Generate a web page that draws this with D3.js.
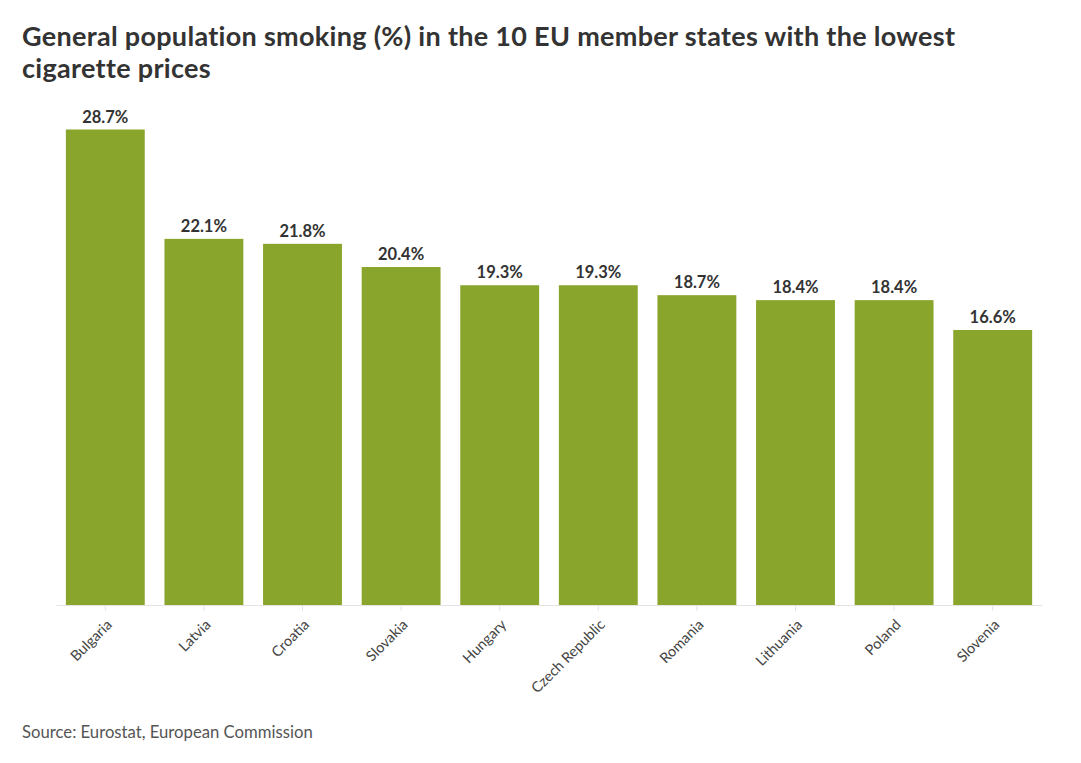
<!DOCTYPE html>
<html>
<head>
<meta charset="utf-8">
<script src="https://cdn.jsdelivr.net/npm/d3@7"></script>
<style>
  body { margin: 0; background: #fff; }
  text { font-family: "Source Sans Pro", Lato, "Open Sans", sans-serif; }
</style>
</head>
<body>
<script>
var countries = ["Bulgaria", "Latvia", "Croatia", "Slovakia", "Hungary",
    "Czech Republic", "Romania", "Lithuania", "Poland", "Slovenia"];
var smoking = [28.7, 22.1, 21.8, 20.4, 19.3, 19.3, 18.7, 18.4, 18.4, 16.6];

var titleLines = ["General population smoking (%) in the 10 EU member states with the lowest",
    "cigarette prices"];
var source = "Source: Eurostat, European Commission";

//Width and height
var w = 1081;
var h = 763;
var plotLeft = 56, plotRight = 1042, plotBottom = 605, plotTop = 129.5;

var svg = d3.select("body")
    .append("svg")
    .attr("width", w)
    .attr("height", h);

// Title
svg.append("text")
    .attr("x", 22)
    .attr("y", 46)
    .attr("font-size", "27px")
    .attr("font-weight", "bold")
    .attr("letter-spacing", "0.3px")
    .attr("fill", "#333")
    .selectAll("tspan")
    .data(titleLines)
    .enter()
    .append("tspan")
    .attr("x", 22)
    .attr("dy", function (d, i) { return i == 0 ? 0 : 32; })
    .text(function (d) { return d; });

// Scales
var xScale = d3.scaleBand()
    .domain(countries)
    .range([plotLeft, plotRight])
    .paddingInner(0.2)
    .paddingOuter(0.1);

var yScale = d3.scaleLinear()
    .domain([0, d3.max(smoking)])
    .range([plotBottom, plotTop]);

// Axis
var xAxis = d3.axisBottom(xScale)
    .tickSizeInner(6)
    .tickSizeOuter(0)
    .tickPadding(4);

var gx = svg.append("g")
    .attr("transform", "translate(0," + plotBottom + ")")
    .call(xAxis);

gx.select(".domain").attr("stroke", "#e3e3e3");
gx.selectAll(".tick line").attr("stroke", "#e3e3e3");
gx.selectAll(".tick text")
    .attr("font-size", "14.5px")
    .attr("fill", "#444")
    .attr("text-anchor", "end")
    .attr("dy", "0.35em")
    .attr("transform", "translate(4,17) rotate(-45)")
    .attr("y", 0)
    .attr("x", 0);

// Bars
svg.selectAll("rect.bar")
    .data(smoking)
    .enter()
    .append("rect")
    .attr("class", "bar")
    .attr("x", function (d, i) { return xScale(countries[i]); })
    .attr("y", function (d) { return yScale(d); })
    .attr("width", xScale.bandwidth())
    .attr("height", function (d) { return plotBottom - yScale(d); })
    .attr("fill", "#89a52b");

// Value labels
svg.selectAll("text.value")
    .data(smoking)
    .enter()
    .append("text")
    .attr("class", "value")
    .attr("x", function (d, i) { return xScale(countries[i]) + xScale.bandwidth() / 2; })
    .attr("y", function (d) { return yScale(d) - 7; })
    .attr("text-anchor", "middle")
    .attr("font-size", "16.5px")
    .attr("font-weight", "bold")
    .attr("fill", "#333")
    .text(function (d) { return d.toFixed(1) + "%"; });

// Source
svg.append("text")
    .attr("x", 22)
    .attr("y", 738)
    .attr("font-size", "16.7px")
    .attr("fill", "#555")
    .text(source);
</script>
</body>
</html>
